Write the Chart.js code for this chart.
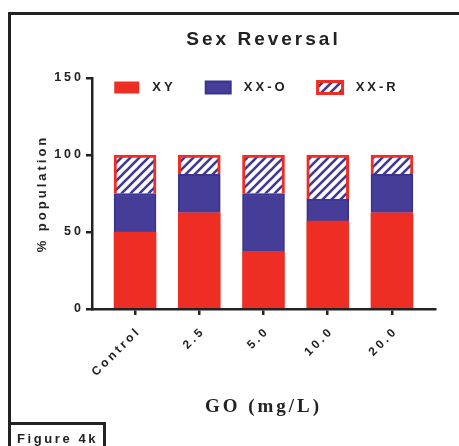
<!DOCTYPE html>
<html>
<head>
<meta charset="utf-8">
<script src="https://cdn.jsdelivr.net/npm/chart.js@4/dist/chart.umd.min.js"></script>
<style>
  html, body { margin: 0; padding: 0; background: #fff; }
  #wrap { position: relative; width: 459px; height: 446px; overflow: hidden; }
  #chart { position: absolute; left: 0; top: 0; }
  #frame { position: absolute; left: 8px; top: 12px; width: 480px; height: 480px; box-sizing: border-box;
           border-top: 3px solid #222; border-left: 3px solid #222; }
  #fig { position: absolute; left: 8px; top: 422px; width: 98px; height: 40px; box-sizing: border-box;
         border: 3px solid #222; border-bottom: none; padding: 7px 0 0 6px;
         font: bold 13px Arial, "Liberation Sans", sans-serif; line-height: 13px; letter-spacing: 2.6px; color: #222; }
</style>
</head>
<body>
<div id="wrap">
  <canvas id="chart" width="459" height="446"></canvas>
  <div id="frame"></div>
  <div id="fig">Figure 4k</div>
</div>
<script>
// data (% of population per group)
const groups = ['Control', '2.5', '5.0', '10.0', '20.0'];
const xy  = [50, 62.5, 37.5, 57.1, 62.5];
const xxO = [25, 25, 37.5, 14.3, 25];
const xxR = [25, 12.5, 25, 28.6, 12.5];
const yTicks = [0, 50, 100, 150];

const RED = '#ee2d24';
const BLUE = '#463d98';
const INK = '#222';
const SANS = 'Arial, "Liberation Sans", sans-serif';
const LEGEND_PAD = 30;

// white with blue diagonal stripes for the XX-R segment
function hatch() {
  const c = document.createElement('canvas');
  c.width = 9; c.height = 9;
  const g = c.getContext('2d');
  g.fillStyle = '#fff';
  g.fillRect(0, 0, 9, 9);
  g.strokeStyle = '#3f3896';
  g.lineWidth = 2.6;
  g.beginPath();
  g.moveTo(-1, 10); g.lineTo(10, -1);
  g.moveTo(-1, 1); g.lineTo(1, -1);
  g.moveTo(8, 10); g.lineTo(10, 8);
  g.stroke();
  return g.createPattern(c, 'repeat');
}

const pts = arr => arr.map((v, i) => ({ x: i, y: v }));

// letter spacing like the original figure
const spacing = {
  id: 'spacing',
  beforeUpdate(chart) { chart.ctx.letterSpacing = '3px'; },
  beforeDraw(chart) { chart.ctx.letterSpacing = '3px'; }
};

// the legend sits inside the plot, just under the 150 tick
const legendInPlot = {
  id: 'legendInPlot',
  afterLayout(chart) {
    const lg = chart.legend;
    const h = lg.bottom - lg.top;
    lg.top = chart.chartArea.top - LEGEND_PAD + 3;
    lg.bottom = lg.top + h;
    lg.left += 24;
    lg.right += 24;
  }
};

new Chart(document.getElementById('chart'), {
  type: 'bar',
  data: {
    datasets: [
      { label: 'XY', data: pts(xy), backgroundColor: RED, borderWidth: 0 },
      { label: 'XX-O', data: pts(xxO), backgroundColor: BLUE, borderColor: '#3a3390', borderWidth: 2 },
      { label: 'XX-R', data: pts(xxR), backgroundColor: hatch(), borderColor: RED, borderWidth: 3, borderSkipped: 'bottom' }
    ]
  },
  options: {
    responsive: false,
    animation: false,
    barThickness: 42,
    layout: { padding: { left: 30, right: 24, top: 0, bottom: 28 } },
    scales: {
      x: {
        type: 'linear', stacked: true, offset: false,
        min: -0.67, max: 4.67,
        ticks: {
          stepSize: 1, includeBounds: false, autoSkip: false,
          minRotation: 45, maxRotation: 45, padding: 9, labelOffset: 4,
          color: INK, font: { family: SANS, size: 12, weight: 'bold' },
          callback: v => groups[v]
        },
        grid: { drawOnChartArea: false, offset: false, tickLength: 6, lineWidth: 2.5, color: INK },
        border: { color: INK, width: 2.5 },
        title: {
          display: true, text: 'GO (mg/L)', color: INK, padding: 0,
          font: { family: '"Times New Roman", "Liberation Serif", serif', size: 19, weight: 'bold' }
        },
        afterFit(scale) { scale.height = 109; }
      },
      y: {
        stacked: true, min: 0, max: 150,
        afterBuildTicks(scale) { scale.ticks = yTicks.map(v => ({ value: v })); },
        ticks: { padding: 2, color: INK, font: { family: SANS, size: 12.5, weight: 'bold' } },
        grid: { drawOnChartArea: false, tickLength: 6, lineWidth: 2.5, color: INK },
        border: { color: INK, width: 2.5 },
        title: {
          display: true, text: '% population', color: INK, padding: { top: 5, bottom: 0 },
          font: { family: SANS, size: 13, weight: 'bold' }
        },
        afterFit(scale) { scale.width = 62; }
      }
    },
    plugins: {
      title: {
        display: true, fullSize: false, text: 'Sex Reversal', color: INK,
        font: { family: SANS, size: 19, weight: 'bold' },
        padding: { top: 28, bottom: -25.8 }
      },
      legend: {
        position: 'top',
        labels: {
          boxWidth: 25, boxHeight: 12, padding: LEGEND_PAD, color: INK,
          font: { family: SANS, size: 13, weight: 'bold' },
          generateLabels(chart) {
            return Chart.defaults.plugins.legend.labels.generateLabels(chart)
              .map(item => ({ ...item, text: ' ' + item.text }));
          }
        }
      },
      tooltip: { enabled: false }
    }
  },
  plugins: [spacing, legendInPlot]
});
</script>
</body>
</html>
